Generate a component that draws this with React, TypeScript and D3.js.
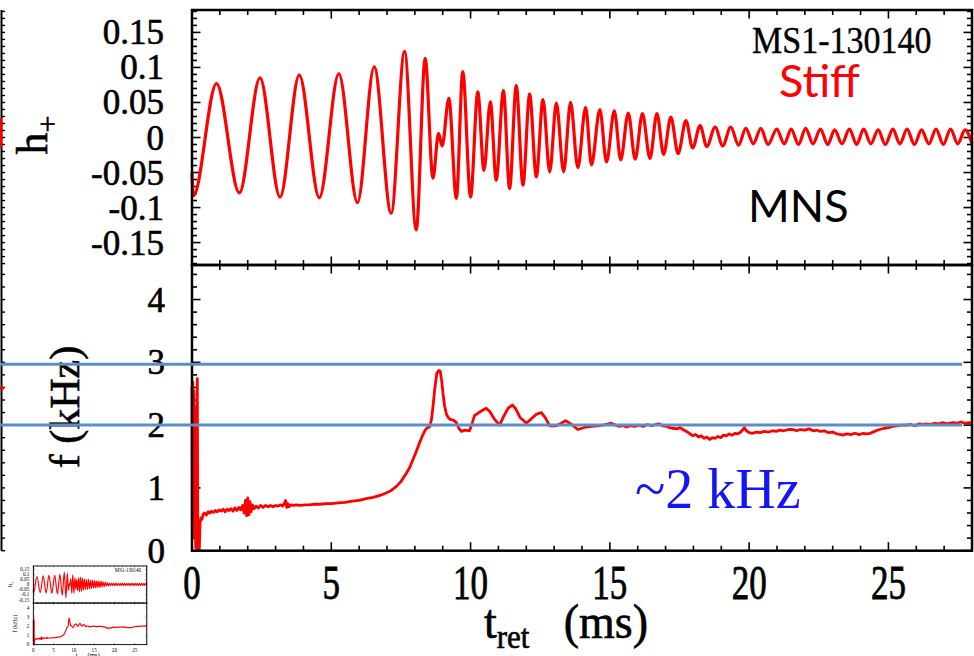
import React from "react";
import * as d3 from "d3";

// ---------------- data ----------------
// h+ waveform: successive extrema (time in ms, strain)
const waveT = [
  0.0, 0.05, 0.88, 1.7, 2.44, 3.16, 3.85, 4.57, 5.27, 5.94, 6.54, 7.15, 7.63, 8.05, 8.37, 8.65, 8.85, 8.98,
  9.22, 9.49, 9.72, 10.0, 10.26, 10.48, 10.71, 10.92, 11.18, 11.4, 11.64, 11.88, 12.12, 12.36, 12.6, 12.84,
  13.08, 13.34, 13.59, 13.85, 14.13, 14.34, 14.64, 14.88, 15.16, 15.39, 15.66, 15.91, 16.17, 16.44, 16.69,
  16.93, 17.19, 17.45, 17.73, 17.97, 18.24, 18.48, 18.78, 19.05, 19.34, 19.62, 19.88, 20.15, 20.42, 20.68,
  20.99, 21.26, 21.51, 21.77, 22.03, 22.29, 22.56, 22.82, 23.07, 23.33, 23.6, 23.86, 24.11, 24.37, 24.63,
  24.89, 25.16, 25.41, 25.67, 25.93, 26.19, 26.45, 26.71, 26.97, 27.23, 27.49, 27.75, 28.0,
];
const waveH = [
  -0.05, -0.083, 0.077, -0.079, 0.085, -0.085, 0.089, -0.086, 0.091, -0.093, 0.101, -0.108, 0.123, -0.132,
  0.113, -0.058, 0.006, -0.012, 0.056, -0.087, 0.094, -0.085, 0.065, -0.047, 0.051, -0.061, 0.067, -0.073,
  0.074, -0.068, 0.062, -0.056, 0.054, -0.049, 0.049, -0.049, 0.05, -0.043, 0.043, -0.039, 0.04, -0.035,
  0.038, -0.032, 0.035, -0.031, 0.034, -0.03, 0.034, -0.024, 0.029, -0.023, 0.024, -0.015, 0.017, -0.013,
  0.015, -0.012, 0.015, -0.011, 0.013, -0.009, 0.013, -0.01, 0.012, -0.009, 0.012, -0.01, 0.013, -0.009,
  0.012, -0.01, 0.011, -0.009, 0.012, -0.01, 0.012, -0.009, 0.011, -0.01, 0.012, -0.009, 0.012, -0.01,
  0.011, -0.009, 0.012, -0.01, 0.012, -0.009, 0.011, -0.009,
];

// instantaneous frequency (time in ms, kHz)
const freqT = [
  0.0, 0.01, 0.03, 0.05, 0.07, 0.09, 0.11, 0.13, 0.15, 0.17, 0.19, 0.21, 0.23, 0.26, 0.29, 0.32, 0.36, 0.4,
  0.45, 0.52, 0.58, 0.64, 0.7, 0.77, 0.84, 0.91, 0.98, 1.05, 1.12, 1.19, 1.26, 1.33, 1.4, 1.47, 1.54, 1.61,
  1.68, 1.75, 1.82, 1.87, 1.92, 1.96, 2.0, 2.04, 2.08, 2.12, 2.17, 2.23, 2.3, 2.38, 2.46, 2.55, 2.64, 2.73,
  2.82, 2.91, 3.0, 3.09, 3.18, 3.26, 3.32, 3.36, 3.4, 3.44, 3.48, 3.55, 3.65, 3.75, 3.9, 4.05, 4.2, 4.4, 4.6,
  4.8, 5.0, 5.25, 5.5, 5.75, 6.0, 6.25, 6.5, 6.75, 6.97, 7.15, 7.33, 7.5, 7.69, 7.82, 7.93, 8.05, 8.17, 8.27,
  8.37, 8.45, 8.53, 8.6, 8.65, 8.72, 8.79, 8.86, 8.91, 8.96, 9.01, 9.07, 9.13, 9.2, 9.27, 9.38, 9.49, 9.58,
  9.67, 9.8, 9.96, 10.05, 10.14, 10.3, 10.45, 10.56, 10.68, 10.85, 11.04, 11.2, 11.35, 11.5, 11.62, 11.78,
  12.0, 12.18, 12.35, 12.54, 12.68, 12.84, 13.08, 13.25, 13.41, 13.6, 13.85, 14.0, 14.15, 14.35, 14.55,
  14.75, 14.95, 15.05, 15.2, 15.35, 15.45, 15.59, 15.75, 15.9, 16.05, 16.2, 16.35, 16.5, 16.65, 16.78, 16.9,
  17.05, 17.15, 17.26, 17.4, 17.52, 17.62, 17.75, 17.85, 17.98, 18.08, 18.18, 18.28, 18.38, 18.48, 18.58,
  18.68, 18.78, 18.88, 18.98, 19.08, 19.18, 19.28, 19.38, 19.5, 19.6, 19.7, 19.78, 19.83, 19.9, 20.0, 20.13,
  20.25, 20.4, 20.55, 20.7, 20.85, 20.97, 21.1, 21.25, 21.4, 21.57, 21.7, 21.85, 22.0, 22.15, 22.3, 22.45,
  22.53, 22.7, 22.85, 23.0, 23.15, 23.3, 23.36, 23.5, 23.65, 23.8, 23.95, 24.1, 24.2, 24.35, 24.5, 24.68,
  24.85, 25.0, 25.15, 25.3, 25.45, 25.64, 25.8, 25.95, 26.1, 26.25, 26.36, 26.5, 26.65, 26.8, 26.95, 27.1,
  27.31, 27.45, 27.6, 27.75, 27.9, 28.0,
];
const freqF = [
  2.62, 0.4, 2.68, 0.95, 2.55, 0.2, 2.2, 0.05, 2.3, 0.0, 2.74, 0.0, 0.1, 0.0, 0.45, 0.52, 0.5, 0.58,
  0.6, 0.57, 0.62, 0.6, 0.63, 0.61, 0.64, 0.62, 0.65, 0.63, 0.66, 0.62, 0.66, 0.64, 0.67, 0.63, 0.68, 0.64,
  0.69, 0.65, 0.72, 0.6, 0.8, 0.56, 0.84, 0.57, 0.78, 0.62, 0.73, 0.67, 0.71, 0.68, 0.72, 0.69, 0.72, 0.7,
  0.72, 0.7, 0.72, 0.71, 0.73, 0.71, 0.76, 0.8, 0.69, 0.75, 0.7, 0.73, 0.72, 0.73, 0.72, 0.73, 0.73, 0.74, 0.74,
  0.75, 0.75, 0.76, 0.77, 0.79, 0.8, 0.83, 0.85, 0.88, 0.92, 0.96, 1.02, 1.1, 1.23, 1.33, 1.45, 1.58, 1.72, 1.83,
  1.92, 1.96, 1.97, 2.1, 2.29, 2.6, 2.83, 2.87, 2.86, 2.72, 2.5, 2.3, 2.18, 2.12, 2.09, 2.08, 2.04, 1.95,
  1.9, 1.92, 1.91, 2.02, 2.15, 2.2, 2.24, 2.27, 2.22, 2.1, 2.0, 2.15, 2.27, 2.32, 2.26, 2.12,
  2.03, 2.1, 2.17, 2.2, 2.12, 1.99, 1.99, 2.03, 2.07, 2.02, 1.93, 1.95, 1.97, 1.98, 1.99,
  2.0, 2.02, 2.03, 2.0, 1.98, 2.0, 1.97, 1.99, 1.98, 2.0, 1.98, 2.01, 1.99, 2.01, 2.02, 1.99,
  1.98, 1.96, 1.95, 1.94, 1.96, 1.93, 1.9, 1.87, 1.83, 1.85, 1.81, 1.83, 1.79, 1.81, 1.77,
  1.8, 1.79, 1.82, 1.8, 1.84, 1.83, 1.86, 1.84, 1.87, 1.86, 1.89, 1.93, 1.96, 1.91, 1.88, 1.87,
  1.89, 1.88, 1.9, 1.89, 1.91, 1.9, 1.92, 1.91, 1.93, 1.93, 1.91, 1.93, 1.92, 1.94, 1.91, 1.92,
  1.9, 1.91, 1.88, 1.89, 1.86, 1.85, 1.84, 1.86, 1.85, 1.87, 1.85, 1.87, 1.86, 1.87, 1.9, 1.93,
  1.95, 1.96, 1.98, 1.99, 2.0, 2.0, 2.01, 1.99, 2.02, 2.01, 2.02, 2.01, 2.03, 2.02, 2.04, 2.02,
  2.04, 2.03, 2.05, 2.03, 2.04, 2.03,
];

const hTickValues = [-0.15, -0.1, -0.05, 0, 0.05, 0.1, 0.15];
const hTickLabels = ["-0.15", "-0.1", "-0.05", "0", "0.05", "0.1", "0.15"];
const fTickValues = [0, 1, 2, 3, 4];
const fTickLabels = ["0", "1", "2", "3", "4"];
const tTickValues = [0, 5, 10, 15, 20, 25];
const tTickLabels = ["0", "5", "10", "15", "20", "25"];
const refLevels = [2.97, 2.0];
const runLabel = "MS1-130140";
const eosLabel = "Stiff";
const remnantLabel = "MNS";
const freqNote = "~2 kHz";

// ---------------- scales ----------------
const X0 = 192, X1 = 972;
const TOP = 10, MID = 265, BOT = 550.7;
const x = d3.scaleLinear().domain([0, 28]).range([X0, X1]);
const yH = d3.scaleLinear().domain([-0.182, 0.182]).range([MID, TOP]);
const yF = d3.scaleLinear().domain([0, 4.55]).range([BOT, MID]);

const SERIF = "'Liberation Serif', 'DejaVu Serif', serif";
const SANS = "Lato, 'Open Sans', sans-serif";

function Panels({ inset }: { inset: boolean }) {
  const frameW = inset ? 6 : 2.5;
  const tickW = inset ? 5 : 1.6;
  const waveW = inset ? 8 : 3.2;
  const freqW = inset ? 8 : 2.8;
  const bold = inset ? 0 : 0.6;
  const MAJ = 8.5, MIN = 5;

  const wavePath = d3
    .line<number>()
    .x((_, i) => x(waveT[i]))
    .y((d) => yH(d))
    .curve(d3.curveMonotoneX)(waveH) as string;
  const freqPath = d3
    .line<number>()
    .x((_, i) => x(freqT[i]))
    .y((d) => yF(d))
    .curve(d3.curveLinear)(freqF) as string;

  const xTicks = d3.range(0, 29);
  const hMinor = d3.range(-18, 19);
  const fMinor = d3.range(0, 23);

  const ticks: JSX.Element[] = [];
  xTicks.forEach((i) => {
    const len = i % 5 === 0 ? MAJ : MIN;
    const xx = x(i);
    [
      [TOP, TOP + len],
      [MID, MID - len],
      [MID, MID + len],
      [BOT, BOT - len],
    ].forEach(([a, b], k) =>
      ticks.push(<line key={`xt${i}-${k}`} x1={xx} x2={xx} y1={a} y2={b} stroke="#000" strokeWidth={tickW} />)
    );
  });
  hMinor.forEach((i) => {
    const len = i % 5 === 0 ? MAJ : MIN;
    const yy = yH(i / 100);
    ticks.push(<line key={`hl${i}`} x1={X0} x2={X0 + len} y1={yy} y2={yy} stroke="#000" strokeWidth={tickW} />);
    ticks.push(<line key={`hr${i}`} x1={X1} x2={X1 - len} y1={yy} y2={yy} stroke="#000" strokeWidth={tickW} />);
  });
  fMinor.forEach((i) => {
    const len = i % 5 === 0 ? MAJ : MIN;
    const yy = yF(i * 0.2);
    ticks.push(<line key={`fl${i}`} x1={X0} x2={X0 + len} y1={yy} y2={yy} stroke="#000" strokeWidth={tickW} />);
    ticks.push(<line key={`fr${i}`} x1={X1} x2={X1 - len} y1={yy} y2={yy} stroke="#000" strokeWidth={tickW} />);
  });

  return (
    <g>
      {ticks}
      <path d={wavePath} fill="none" stroke="#ff0000" strokeWidth={waveW} strokeLinejoin="round" />
      <path d={freqPath} fill="none" stroke="#ff0000" strokeWidth={freqW} strokeLinejoin="round" />
      <rect x={X0} y={TOP} width={X1 - X0} height={MID - TOP} fill="none" stroke="#000" strokeWidth={frameW} />
      <rect x={X0} y={MID} width={X1 - X0} height={BOT - MID} fill="none" stroke="#000" strokeWidth={frameW} />

      <g fontFamily={SERIF} fill="#000" stroke="#000" strokeWidth={bold}>
        {/* y tick labels */}
        <g fontSize={35} textAnchor="end">
          {hTickValues.map((v, i) => (
            <text key={`hlab${i}`} x={164} y={yH(v) + 12}>
              {hTickLabels[i]}
            </text>
          ))}
          {fTickValues.map((v, i) => (
            <text key={`flab${i}`} x={165} y={yF(v) + 12}>
              {fTickLabels[i]}
            </text>
          ))}
        </g>
        {/* x tick labels (vertically stretched as in the reference) */}
        <g fontSize={35} textAnchor="middle">
          {tTickValues.map((v, i) => (
            <g key={`tlab${i}`} transform={`translate(${x(v)},599) scale(1,1.38)`}>
              <text x={0} y={0}>
                {tTickLabels[i]}
              </text>
            </g>
          ))}
        </g>
        {/* axis titles */}
        <text transform="translate(47,135) rotate(-90)" fontSize={44} textAnchor="middle">
          h
          <tspan fontSize={30} dy={10}>
            +
          </tspan>
        </text>
        <text transform="translate(79,407) rotate(-90)" fontSize={42} textAnchor="middle">
          f (kHz)
        </text>
        <g transform="translate(484,638) scale(1,1.06)">
          <text x={0} y={0} fontSize={46}>
            t
            <tspan fontSize={31} dy={9}>
              ret
            </tspan>
          </text>
          <text x={164} y={0} fontSize={46} textAnchor="end">
            (ms)
          </text>
        </g>
        <g transform="translate(752,53) scale(1,1.1)">
          <text x={0} y={0} fontSize={34} strokeWidth={bold * 0.6}>
            {runLabel}
          </text>
        </g>
      </g>
    </g>
  );
}

export default function App() {
  return (
    <svg
      width={974}
      height={656}
      viewBox="0 0 974 656"
      style={{ position: "absolute", left: 0, top: 0, display: "block", background: "#fff" }}
    >
      <rect x={0} y={0} width={974} height={656} fill="#fff" />

      {/* edge of the neighbouring figure on the far left */}
      <g>
        <line x1={1.5} x2={1.5} y1={TOP} y2={BOT} stroke="#000" strokeWidth={2} />
        {d3.range(-18, 19).map((i) => (
          <line key={`el${i}`} x1={1.5} x2={5} y1={yH(i / 100)} y2={yH(i / 100)} stroke="#000" strokeWidth={1.4} />
        ))}
        {d3.range(0, 23).map((i) => (
          <line key={`ef${i}`} x1={1.5} x2={5} y1={yF(i * 0.2)} y2={yF(i * 0.2)} stroke="#000" strokeWidth={1.4} />
        ))}
        <line x1={1} x2={1} y1={yH(0.028)} y2={yH(-0.014)} stroke="#ff0000" strokeWidth={2.5} />
        <line x1={0} x2={4} y1={yF(2.59)} y2={yF(2.59)} stroke="#ff0000" strokeWidth={3} />
      </g>

      <Panels inset={false} />

      {/* reference frequency levels */}
      {refLevels.map((v, i) => (
        <line key={`ref${i}`} x1={0} x2={962} y1={yF(v)} y2={yF(v)} stroke="#5b8dc8" strokeWidth={3} />
      ))}

      {/* annotations */}
      <text x={779} y={97} fontFamily={SANS} fontSize={45} fill="#ff0000">
        {eosLabel}
      </text>
      <text x={748} y={222} fontFamily={SANS} fontSize={45} fill="#000">
        {remnantLabel}
      </text>
      <text x={635} y={508} fontFamily={SERIF} fontSize={56} fill="#1414f5">
        {freqNote}
      </text>

      {/* thumbnail of the whole figure, bottom-left */}
      <g transform="translate(5.4,564.5) scale(0.1455)">
        <rect x={0} y={0} width={1000} height={700} fill="#fff" />
        <Panels inset={true} />
      </g>
    </svg>
  );
}
